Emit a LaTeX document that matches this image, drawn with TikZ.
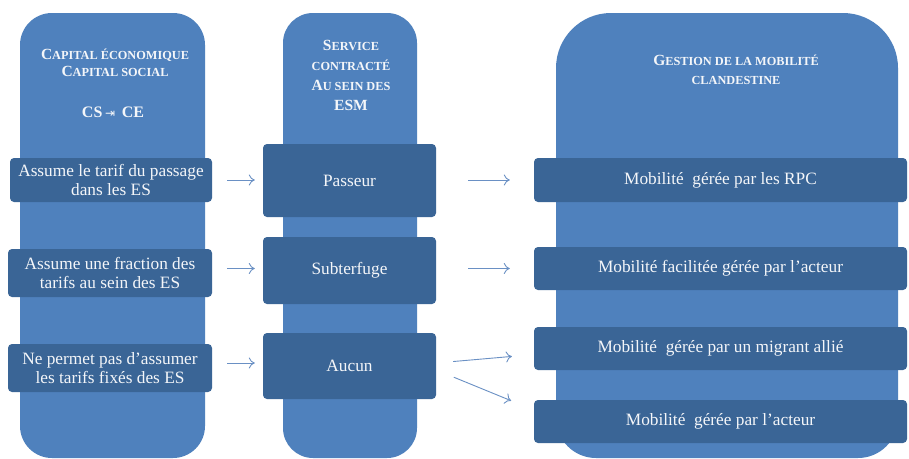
\documentclass[tikz,border=0pt]{standalone}
\usepackage{fontspec}
\setmainfont{Liberation Serif}
\newfontfamily\symfont{DejaVu Sans}
\usetikzlibrary{arrows.meta}
\definecolor{colblue}{HTML}{4F81BD}
\definecolor{boxblue}{HTML}{3A6596}
\definecolor{arrblue}{HTML}{6A90C4}
\definecolor{txtc}{HTML}{F4F6F9}
\newcommand\bigc[1]{{\fontsize{15.5}{17}\selectfont #1}}
\newcommand\smc[1]{{\fontsize{12.3}{17}\selectfont #1}}
\tikzset{
  column/.style={fill=colblue},
  box/.style={fill=boxblue, rounded corners=4pt, text=txtc, align=center, inner sep=0pt,
    font=\fontsize{17.3}{18.5}\selectfont},
  hdr/.style={text=txtc, align=center, inner sep=0pt, font=\bfseries\fontsize{15.5}{17}\selectfont},
  arr/.style={draw=arrblue, line width=0.9pt, -{To[length=6pt,width=11pt]}},
}
\begin{document}
\begin{tikzpicture}[x=1pt,y=-1pt]
\useasboundingbox (0,0) rectangle (909,458);
\fill[white] (0,0) rectangle (909,458);
% columns
\fill[column, rounded corners=32pt] (20,458) -- (20,13) -- (205,13) -- (205,458) -- cycle;
\fill[column, rounded corners=30pt] (283,458) -- (283,13) -- (417,13) -- (417,458) -- cycle;
\fill[column] (556,300) [rounded corners=55pt] -- (556,13) -- (898,13) [rounded corners=0pt] -- (898,300)
   [rounded corners=40pt] -- (898,458) -- (556,458) [rounded corners=0pt] -- cycle;
% headers
\node[hdr] (h1) at (115,63) {\bigc{C}\smc{APITAL ÉCONOMIQUE}\\\bigc{C}\smc{APITAL SOCIAL}};
\node[hdr] (cs) at (113,112) {\fontsize{16}{17}\selectfont CS\,{\symfont\mdseries\fontsize{12}{12}\selectfont ⇥}\, CE};
\node[hdr, font=\bfseries\fontsize{15.5}{20}\selectfont] (h2) at (351,75) {\bigc{S}\smc{ERVICE}\\\smc{CONTRACTÉ}\\\bigc{A}\smc{U SEIN DES}\\\bigc{ESM}};
\node[hdr, font=\bfseries\fontsize{15.5}{19}\selectfont] (h3) at (736,70) {\bigc{G}\smc{ESTION DE LA MOBILITÉ}\\\smc{CLANDESTINE}};
% left boxes
\node[box, minimum width=202pt, minimum height=44pt] (l1) at (111,180) {Assume le tarif du passage\\dans les ES};
\node[box, minimum width=204pt, minimum height=48pt] (l2) at (110,273) {Assume une fraction des\\tarifs au sein des ES};
\node[box, minimum width=204pt, minimum height=48pt] (l3) at (110,368) {Ne permet pas d’assumer\\les tarifs fixés des ES};
% middle boxes
\node[box, minimum width=173pt, minimum height=73pt] (m1) at (349.5,180.5) {Passeur};
\node[box, minimum width=173pt, minimum height=67pt] (m2) at (349.5,270.5) {Subterfuge};
\node[box, minimum width=173pt, minimum height=66pt] (m3) at (349.5,366) {Aucun};
% right boxes
\node[box, minimum width=373pt, minimum height=44pt] (r1) at (720.5,180) {Mobilité~ gérée par les RPC};
\node[box, minimum width=373pt, minimum height=43pt] (r2) at (720.5,268.5) {Mobilité facilitée gérée par l’acteur};
\node[box, minimum width=373pt, minimum height=43pt] (r3) at (720.5,348.5) {Mobilité~ gérée par un migrant allié};
\node[box, minimum width=373pt, minimum height=43pt] (r4) at (720.5,421.5) {Mobilité~ gérée par l’acteur};
% arrows left -> middle
\draw[arr, shorten <=15pt, shorten >=8pt] (l1.east) -- (m1.west |- l1.east);
\draw[arr, shorten <=15pt, shorten >=8pt] (l2.east |- r2.west) -- (m2.west |- r2.west);
\draw[arr, shorten <=15pt, shorten >=8pt] ([yshift=5pt]l3.east) -- ([yshift=5pt]l3.east -| m3.west);
% arrows middle -> right
\draw[arr, shorten <=32pt, shorten >=24pt] (m1.east |- r1.west) -- (r1.west);
\draw[arr, shorten <=32pt, shorten >=24pt] (m2.east |- r2.west) -- (r2.west);
\draw[arr, shorten <=17pt, shorten >=22pt] ([yshift=3pt]m3.east) -- ([yshift=-6pt]r3.west);
\draw[arr, shorten <=19pt, shorten >=24.5pt] ([yshift=-4pt]m3.east) -- ([yshift=11.5pt]r4.west);
\end{tikzpicture}
\end{document}
